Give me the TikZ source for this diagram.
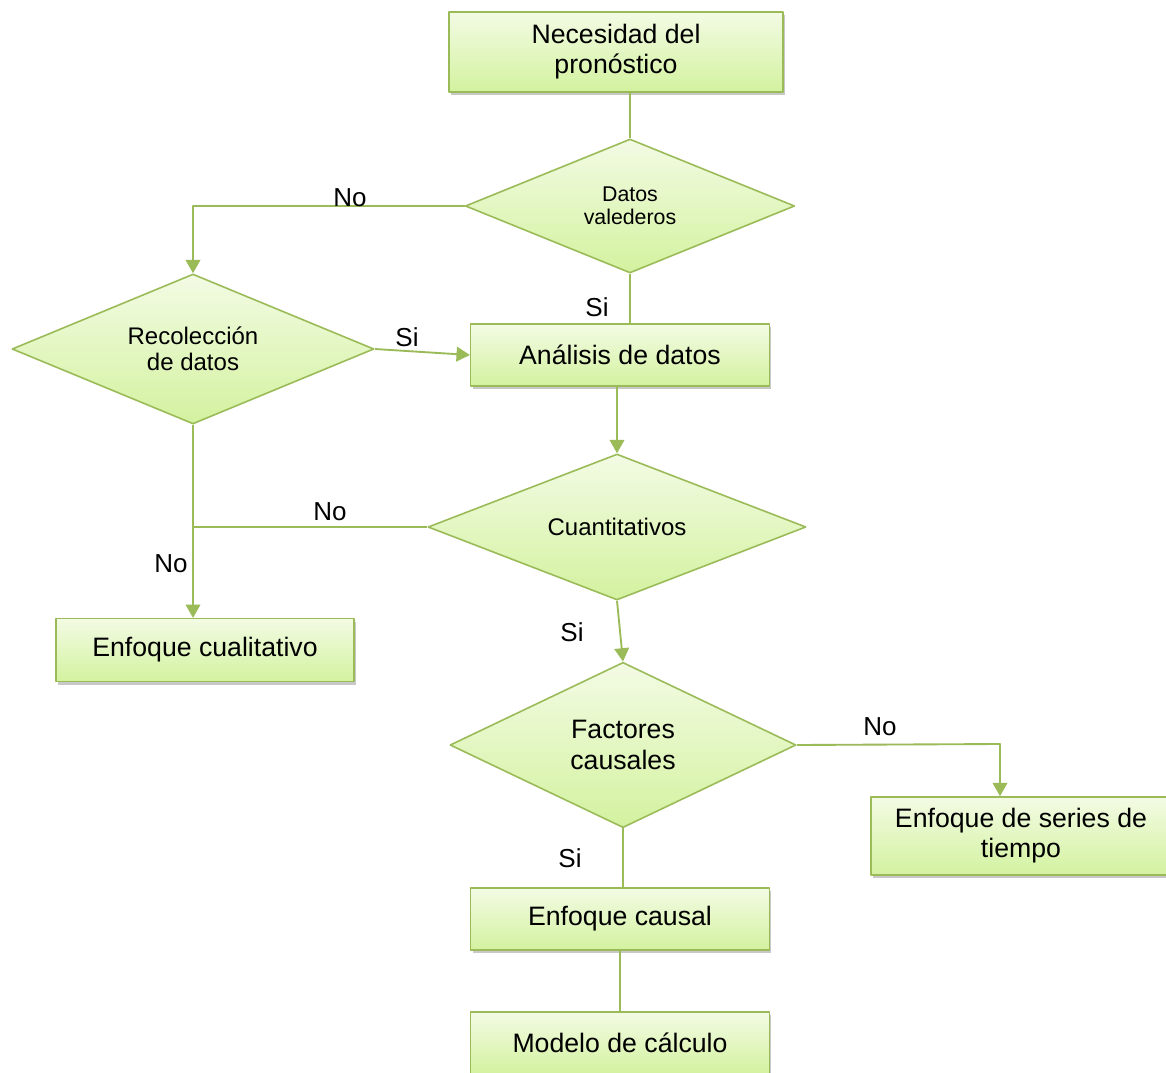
\documentclass[tikz,border=0pt]{standalone}
\usepackage{fontspec}
\setmainfont{Liberation Sans}
\usetikzlibrary{shapes.geometric,shadows,arrows.meta}
\definecolor{verde}{HTML}{9BBB59}
\definecolor{claro}{HTML}{F3FBE4}
\definecolor{oscuro}{HTML}{D3F29F}
\tikzset{
	caja/.style={draw=verde, line width=1.2pt, top color=claro, bottom color=oscuro, align=center, inner sep=0pt,
		drop shadow={shadow xshift=1.5pt, shadow yshift=-2.5pt, opacity=.3, fill=black!70},
		font=\fontsize{20}{22.5}\selectfont},
	rombo/.style={diamond, draw=verde, line width=1.2pt, top color=claro, bottom color=oscuro, align=center, inner sep=0pt},
	linea/.style={draw=verde, line width=1.4pt},
	flecha/.style={linea, -{Triangle[width=11pt,length=10pt]}},
	etiq/.style={font=\fontsize{19.5}{22}\selectfont}
}
\begin{document}
\begin{tikzpicture}[x=0.75pt, y=-0.75pt, line join=round]
				\fill[white] (0,0) rectangle (1166,1073);
				\useasboundingbox (0,0) rectangle (1166,1073);
				% cajas y rombos
				\node[caja, minimum width=250.5pt, minimum height=60pt] (nec) at (616,52) {Necesidad del\\pronóstico};
				\node[rombo, aspect=2.45, minimum width=247pt, minimum height=100.5pt, font=\fontsize{16}{17.5}\selectfont] (datos) at (630,206) {Datos\\valederos};
				\node[rombo, aspect=2.4, minimum width=271.5pt, minimum height=112.5pt, font=\fontsize{18}{19.5}\selectfont] (recol) at (193,349) {Recolección\\de datos};
				\node[caja, minimum width=224pt, minimum height=46.5pt] (analisis) at (620,355) {Análisis de datos};
				\node[rombo, aspect=2.6, minimum width=283.5pt, minimum height=109.5pt, font=\fontsize{18}{19.5}\selectfont] (cuant) at (617,527) {Cuantitativos};
				\node[caja, minimum width=223.5pt, minimum height=47pt] (enfcual) at (205,650) {Enfoque cualitativo};
				\node[rombo, aspect=2.1, minimum width=259.5pt, minimum height=124pt, font=\fontsize{20}{23}\selectfont] (factores) at (623,745) {Factores\\causales};
				\node[caja, minimum width=225pt, minimum height=58.5pt] (series) at (1021,836) {Enfoque de series de\\tiempo};
				\node[caja, minimum width=224pt, minimum height=46.5pt] (causal) at (620,919) {Enfoque causal};
				\node[caja, minimum width=224pt, minimum height=46.5pt] (modelo) at (620,1043) {Modelo de cálculo};
				% conectores
				\coordinate (union) at (recol.south |- cuant.west);
				\coordinate (codo) at (1000,744);
				\draw[linea] (datos.north) -- (datos.north |- nec.south);
				\draw[flecha] (datos.west) -| (recol.north);
				\draw[linea] (datos.south) -- (datos.south |- analisis.north);
				\draw[flecha] (recol.east) -- (analisis.west);
				\draw[flecha] (analisis.south -| cuant.north) -- (cuant.north);
				\draw[linea] (cuant.west) -- (union);
				\draw[flecha] (recol.south) -- (recol.south |- enfcual.north);
				\draw[flecha] (cuant.south) -- (factores.north);
				\draw[flecha] (factores.east) -- (codo) -- (codo |- series.north);
				\draw[linea] (factores.south) -- (factores.south |- causal.north);
				\draw[linea] (causal.south) -- (modelo.north);
				% etiquetas
				\node[etiq] (no1) at (350,198) {No};
				\node[etiq] (si1) at (597,307) {Si};
				\node[etiq] (si2) at (407,337) {Si};
				\node[etiq] (no2) at (330,512) {No};
				\node[etiq] (no3) at (171,564) {No};
				\node[etiq] (si3) at (572,632) {Si};
				\node[etiq] (no4) at (880,727) {No};
				\node[etiq] (si4) at (570,858) {Si};
			\end{tikzpicture}
\end{document}
